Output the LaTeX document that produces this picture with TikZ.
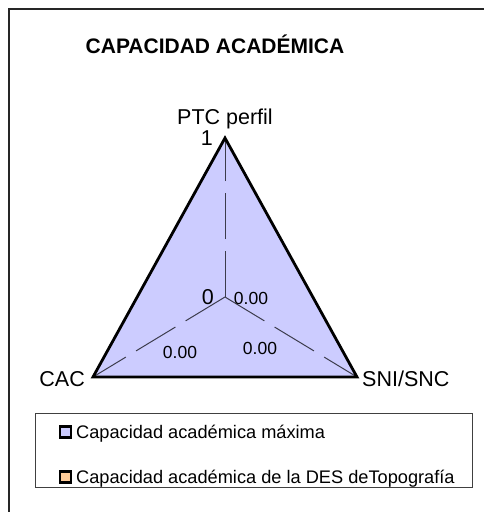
\documentclass[tikz,border=0pt]{standalone}
\usepackage{fontspec}
\setmainfont{Liberation Sans}
\begin{document}
\begin{tikzpicture}[x=1pt,y=-1pt,
  frameline/.style={draw=black!85, line width=2.2pt},
  axisline/.style={draw=axisgray, line width=1pt, dash pattern=on 46pt off 12pt},
  triline/.style={draw=black, line width=2.8pt, line join=miter},
  trifill/.style={fill=maxfill},
  lbl/.style={inner sep=0pt, anchor=base, font=\fontsize{21.5}{25}\selectfont},
  val/.style={inner sep=0pt, anchor=base, font=\fontsize{17.5}{20}\selectfont},
  legtext/.style={inner sep=0pt, anchor=base west, font=\fontsize{18.2}{21}\selectfont},
  legsq/.style={draw=black, line width=2.2pt, minimum size=11pt, inner sep=0pt},
  legbox/.style={draw=black!75, line width=0.9pt, fill=white}
]
\definecolor{maxfill}{HTML}{CCCCFF}
\definecolor{desfill}{HTML}{FFCC99}
\definecolor{axisgray}{HTML}{3C3C4C}
\useasboundingbox (0,0) rectangle (484,512);
\fill[white] (0,0) rectangle (484,512);
% outer frame (clipped at right and bottom)
\draw[frameline] (9,512) -- (9,9) -- (484,9);
% title
\node[inner sep=0pt, anchor=base, font=\bfseries\fontsize{21}{24}\selectfont] (title) at (215,53) {CAPACIDAD ACADÉMICA};
% radar geometry
\coordinate (O) at (225,297);
\coordinate (P) at (225,138);
\coordinate (C) at (93,377);
\coordinate (S) at (357,377);
\fill[trifill] (P) -- (S) -- (C) -- cycle;
\draw[axisline] (O) -- (P);
\draw[axisline] (O) -- (C);
\draw[axisline] (O) -- (S);
\draw[triline] (P) -- (S) -- (C) -- cycle;
% axis labels
\node[lbl] (lp) at (225,124) {PTC perfil};
\node[lbl, anchor=base east] (l1) at (213,145) {1};
\node[lbl, anchor=base east] (l0) at (214,304) {0};
\node[lbl, anchor=base east] (lc) at (85,386) {CAC};
\node[lbl, anchor=base west] (ls) at (362,386) {SNI/SNC};
% values
\node[val] (v1) at (251,304) {0.00};
\node[val] (v2) at (180,358) {0.00};
\node[val] (v3) at (260,354) {0.00};
% legend
\draw[legbox] (35,413) rectangle (472,487);
\node[legsq, fill=maxfill] (sq1) at (65.5,432) {};
\node[legtext] (t1) at (76,438) {Capacidad académica máxima};
\node[legsq, fill=desfill] (sq2) at (65.5,477) {};
\node[legtext] (t2) at (76,483) {Capacidad académica de la DES deTopografía};
\end{tikzpicture}
\end{document}
